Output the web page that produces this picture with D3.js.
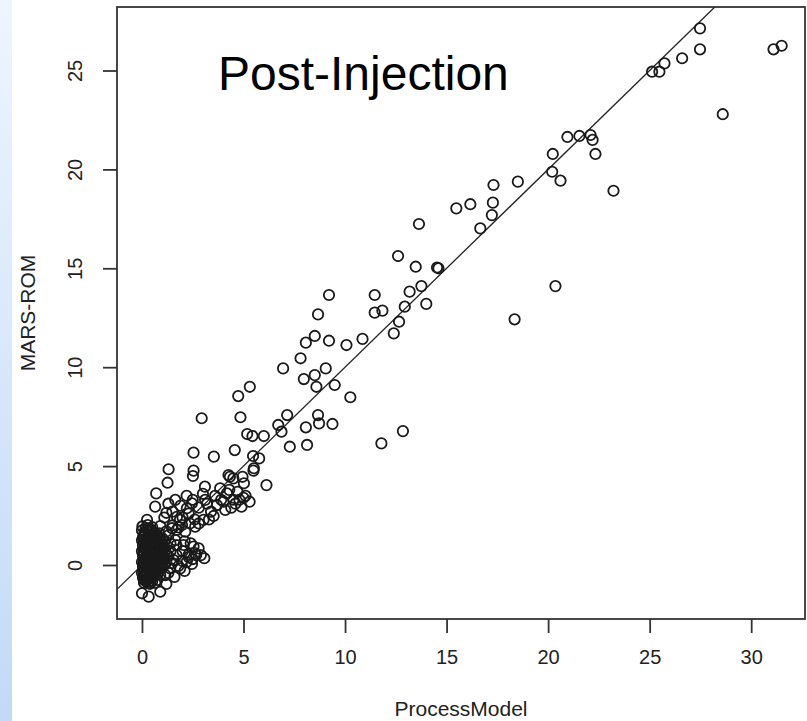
<!DOCTYPE html>
<html>
<head>
<meta charset="utf-8">
<script src="https://cdn.jsdelivr.net/npm/d3@7"></script>
<style>
  body { margin: 0; background: #fff; }
  svg { display: block; }
</style>
</head>
<body>
<div class="graph"></div>
<script>

	// ticks and labels
	var xTicks = [0, 5, 10, 15, 20, 25, 30];
	var yTicks = [0, 5, 10, 15, 20, 25];
	var xLabel = "ProcessModel";
	var yLabel = "MARS-ROM";
	var title = "Post-Injection";

	// reference line y = a + b*x
	var refLine = [0, 1];

	// points, [ProcessModel, MARS-ROM]
	var upperPoints = [
		[27.48, 27.13], [27.48, 26.07], [26.6, 25.62], [25.73, 25.36], [25.48, 24.94],
		[25.12, 24.94], [31.1, 26.07], [31.5, 26.25], [28.6, 22.79], [22.33, 20.78],
		[23.22, 18.92], [20.23, 20.78], [20.2, 19.88], [20.61, 19.43], [18.51, 19.38],
		[20.95, 21.64], [21.54, 21.69], [22.09, 21.74], [22.19, 21.49],
		[17.31, 19.21], [17.28, 18.32], [17.23, 17.69], [16.17, 18.24], [15.48, 18.03],
		[16.66, 17.02], [13.64, 17.24], [12.61, 15.62], [13.48, 15.08], [14.53, 15.04],
		[14.6, 15.0], [13.76, 14.1], [13.18, 13.82], [14.0, 13.2], [12.94, 13.06],
		[11.84, 12.86], [11.46, 13.65], [11.46, 12.76], [12.66, 12.3], [12.4, 11.71],
		[20.36, 14.1], [18.35, 12.42], [12.85, 6.77], [11.79, 6.15]
	];

	var midPoints = [
		[9.21, 13.65], [8.67, 12.67], [8.51, 11.58], [8.07, 11.24], [9.21, 11.34],
		[10.07, 11.12], [10.86, 11.43], [7.81, 10.45], [6.95, 9.94], [7.97, 9.4],
		[8.51, 9.6], [9.05, 9.94], [8.59, 9.01], [9.49, 9.1], [10.26, 8.48],
		[4.74, 8.54], [5.31, 9.01], [2.94, 7.42], [4.85, 7.47], [7.15, 7.58],
		[6.71, 7.08], [6.87, 6.74], [8.07, 6.96], [8.67, 7.58], [8.72, 7.16],
		[9.38, 7.13], [8.13, 6.07], [7.28, 5.98], [5.18, 6.62], [5.44, 6.52],
		[6.0, 6.52], [4.57, 5.81], [3.54, 5.48], [5.47, 5.51], [5.77, 5.39],
		[5.51, 4.89], [6.13, 4.04], [4.95, 4.46], [5.02, 4.13], [4.33, 4.46],
		[3.1, 3.96], [2.54, 5.68], [1.31, 4.84], [1.26, 4.16], [2.54, 4.77],
		[2.51, 4.5], [4.26, 4.55], [4.5, 4.38], [5.49, 4.77], [3.85, 3.88],
		[4.18, 3.62], [5.1, 3.5], [4.8, 3.3], [4.6, 3.1], [5.3, 3.2], [4.9, 2.95]
	];

	var bandPoints = [
		[0.7, 3.62], [1.64, 3.29], [0.65, 2.95], [1.2, 2.64], [2.46, 3.12],
		[2.21, 2.87], [3.11, 3.29], [3.69, 3.03], [4.1, 2.78], [3.53, 2.48],
		[3.03, 2.28], [2.62, 1.94], [4.02, 3.2], [1.72, 2.44], [1.97, 2.02],
		[2.13, 1.68], [1.48, 1.86], [0.9, 1.97], [0.25, 2.28], [1.87, 2.28],
		[2.36, 2.1], [1.71, 1.77], [1.3, 1.5], [1.5, 2.0], [1.8, 1.9],
		[2.0, 2.4], [2.3, 2.6], [2.6, 2.3], [2.8, 2.9], [3.2, 3.1], [3.4, 2.7],
		[3.6, 3.5], [3.9, 3.3], [4.3, 3.8], [4.5, 3.3], [4.7, 3.7], [5.0, 3.4],
		[3.0, 3.6], [2.5, 3.3], [2.2, 3.5], [1.9, 3.0], [1.5, 2.7], [1.1, 2.4],
		[1.3, 3.1], [2.8, 2.1], [3.3, 2.3], [4.4, 2.9]
	];

	var lobePoints = [
		[1.64, 1.26], [2.05, 1.01], [2.54, 0.93], [2.79, 0.84], [3.07, 0.34],
		[2.67, 0.51], [2.3, 0.51], [1.97, 0.22], [2.46, 0.05], [1.88, -0.17],
		[1.56, 0.25], [1.39, -0.17], [1.15, -0.51], [1.2, -0.96], [0.33, -0.84],
		[0.0, -1.43], [0.33, -1.6], [0.9, -1.35], [1.4, 0.7], [1.7, 0.5],
		[2.0, 0.7], [2.3, 0.4], [2.6, 0.6], [2.9, 0.5], [1.5, 0.1], [1.8, -0.05],
		[2.2, 0.15], [2.5, 0.3], [1.3, -0.4], [1.6, -0.6], [2.1, -0.3], [1.4, 1.1],
		[1.7, 1.0], [2.1, 1.2], [2.4, 1.1], [1.2, 1.7]
	];

	// the solid black blob next to the origin
	var blobPoints = [
		[0.0, 1.75], [0.25, 1.8], [0.5, 1.7], [0.1, 1.5], [0.35, 1.55], [0.6, 1.45], [0.85, 1.6],
		[0.0, 1.25], [0.2, 1.3], [0.45, 1.2], [0.7, 1.3], [0.95, 1.15],
		[0.05, 1.0], [0.3, 0.95], [0.55, 1.05], [0.8, 0.9], [1.05, 1.0],
		[0.0, 0.7], [0.2, 0.75], [0.45, 0.65], [0.7, 0.7], [0.95, 0.6], [1.15, 0.75],
		[0.05, 0.45], [0.3, 0.4], [0.55, 0.5], [0.8, 0.35], [1.05, 0.45],
		[0.0, 0.15], [0.2, 0.2], [0.45, 0.1], [0.7, 0.2], [0.95, 0.05], [1.2, 0.15],
		[0.05, -0.1], [0.3, -0.15], [0.55, -0.05], [0.8, -0.2], [1.0, -0.1],
		[0.0, -0.4], [0.2, -0.35], [0.45, -0.45], [0.7, -0.35], [0.9, -0.5],
		[0.05, -0.65], [0.3, -0.7], [0.55, -0.6], [0.75, -0.75],
		[0.1, -0.9], [0.4, -0.95],
		[0.12, 1.65], [0.38, 1.7], [0.62, 1.6], [0.05, 1.4], [0.3, 1.38], [0.55, 1.35],
		[0.8, 1.4], [1.0, 1.35], [0.1, 1.12], [0.35, 1.08], [0.6, 1.15], [0.85, 1.05],
		[1.1, 1.2], [0.12, 0.85], [0.38, 0.82], [0.62, 0.85], [0.88, 0.78], [1.1, 0.88],
		[0.1, 0.58], [0.35, 0.55], [0.62, 0.58], [0.88, 0.5], [1.1, 0.6], [1.3, 0.45],
		[0.12, 0.3], [0.38, 0.25], [0.62, 0.32], [0.85, 0.2], [1.1, 0.3],
		[0.12, 0.02], [0.4, -0.02], [0.65, 0.05], [0.9, -0.08], [1.12, 0.0],
		[0.12, -0.25], [0.38, -0.3], [0.62, -0.2], [0.85, -0.3],
		[0.12, -0.52], [0.38, -0.55], [0.62, -0.5], [0.2, -0.8], [0.5, -0.82], [0.65, -0.9],
		[0.02, 1.95], [0.28, 2.02], [0.5, 1.92], [0.18, 1.58], [0.45, 1.48], [0.72, 1.55],
		[0.25, 1.05], [0.5, 0.9], [0.75, 1.0], [0.25, 0.5], [0.5, 0.35], [0.75, 0.45],
		[0.25, 0.0], [0.5, -0.2], [0.75, 0.0], [0.25, -0.5], [0.5, -0.38], [0.3, -0.92],
		[0.18, 1.88], [0.4, 1.82], [0.08, 1.3], [0.52, 1.28], [0.92, 1.28], [0.18, 0.95],
		[0.68, 0.92], [0.98, 0.92], [0.08, 0.72], [0.55, 0.72], [0.98, 0.72], [0.18, 0.4],
		[0.68, 0.42], [0.95, 0.3], [0.08, 0.1], [0.55, 0.18], [1.0, 0.18], [0.18, -0.1],
		[0.72, -0.12], [0.08, -0.35], [0.55, -0.35], [0.78, -0.45], [0.18, -0.62],
		[0.45, -0.68], [0.1, -0.75]
	];

	var allPoints = upperPoints.concat(midPoints, bandPoints, lobePoints, blobPoints);

	// plot box
	var box = {left: 117, top: 7, right: 805, bottom: 619};

	var x = d3.scaleLinear()
		.domain([-1.23, 32.65])
		.range([box.left, box.right]);

	var y = d3.scaleLinear()
		.domain([-2.73, 28.21])
		.range([box.bottom, box.top]);

	var svg = d3.select(".graph")
		.append("svg")
		.attr("width", 807)
		.attr("height", 721);

	// blue strip on the left edge
	var grad = svg.append("defs")
		.append("linearGradient")
		.attr("id", "strip")
		.attr("x1", 0).attr("y1", 0)
		.attr("x2", 0).attr("y2", 1);
	grad.append("stop").attr("offset", "0%").attr("stop-color", "#eef5fe");
	grad.append("stop").attr("offset", "100%").attr("stop-color", "#c2daf7");

	svg.append("rect")
		.attr("x", 0)
		.attr("y", 0)
		.attr("width", 12)
		.attr("height", 721)
		.attr("fill", "url(#strip)");

	svg.select("defs")
		.append("clipPath")
		.attr("id", "plotclip")
		.append("rect")
		.attr("x", box.left)
		.attr("y", box.top)
		.attr("width", box.right - box.left)
		.attr("height", box.bottom - box.top);

	// y = x line
	var xd = x.domain();
	svg.append("line")
		.attr("clip-path", "url(#plotclip)")
		.attr("x1", x(xd[0]))
		.attr("y1", y(refLine[0] + refLine[1] * xd[0]))
		.attr("x2", x(xd[1]))
		.attr("y2", y(refLine[0] + refLine[1] * xd[1]))
		.attr("stroke", "#222")
		.attr("stroke-width", 1.3);

	// points
	svg.append("g")
		.attr("clip-path", "url(#plotclip)")
		.selectAll("circle")
		.data(allPoints)
		.enter()
		.append("circle")
		.attr("cx", function(d){ return x(d[0]); })
		.attr("cy", function(d){ return y(d[1]); })
		.attr("r", 5.2)
		.attr("fill", "none")
		.attr("stroke", "#1a1a1a")
		.attr("stroke-width", 1.8);

	// axes, R style: ticks out, labels below / rotated on the left
	var xAxis = svg.append("g")
		.attr("transform", "translate(0," + box.bottom + ")")
		.call(d3.axisBottom(x).tickValues(xTicks).tickSize(14).tickPadding(17).tickSizeOuter(0));

	var yAxis = svg.append("g")
		.attr("transform", "translate(" + box.left + ",0)")
		.call(d3.axisLeft(y).tickValues(yTicks).tickSize(14).tickSizeOuter(0));

	svg.selectAll(".domain").remove();
	svg.selectAll(".tick line")
		.attr("stroke", "#333")
		.attr("stroke-width", 1.8);

	xAxis.selectAll(".tick text")
		.attr("font-family", "Liberation Sans, Arial, sans-serif")
		.attr("font-size", "20px")
		.attr("fill", "#222");

	yAxis.selectAll(".tick text")
		.attr("font-family", "Liberation Sans, Arial, sans-serif")
		.attr("font-size", "20px")
		.attr("fill", "#222")
		.attr("text-anchor", "middle")
		.attr("dy", 0)
		.attr("x", 0)
		.attr("transform", "translate(-35,0) rotate(-90)");

	// box
	svg.append("rect")
		.attr("x", box.left)
		.attr("y", box.top)
		.attr("width", box.right - box.left)
		.attr("height", box.bottom - box.top)
		.attr("fill", "none")
		.attr("stroke", "#333")
		.attr("stroke-width", 1.8);

	// axis titles
	svg.append("text")
		.attr("x", (box.left + box.right) / 2)
		.attr("y", 716)
		.attr("text-anchor", "middle")
		.attr("font-family", "Liberation Sans, Arial, sans-serif")
		.attr("font-size", "21px")
		.attr("fill", "#222")
		.text(xLabel);

	svg.append("text")
		.attr("transform", "translate(35," + (box.top + box.bottom) / 2 + ") rotate(-90)")
		.attr("text-anchor", "middle")
		.attr("font-family", "Liberation Sans, Arial, sans-serif")
		.attr("font-size", "21px")
		.attr("fill", "#222")
		.text(yLabel);

	// label inside the plot
	svg.append("text")
		.attr("x", 218)
		.attr("y", 90)
		.attr("font-family", "Liberation Sans, Arial, sans-serif")
		.attr("font-size", "48px")
		.attr("fill", "#000")
		.text(title);

</script>
</body>
</html>
